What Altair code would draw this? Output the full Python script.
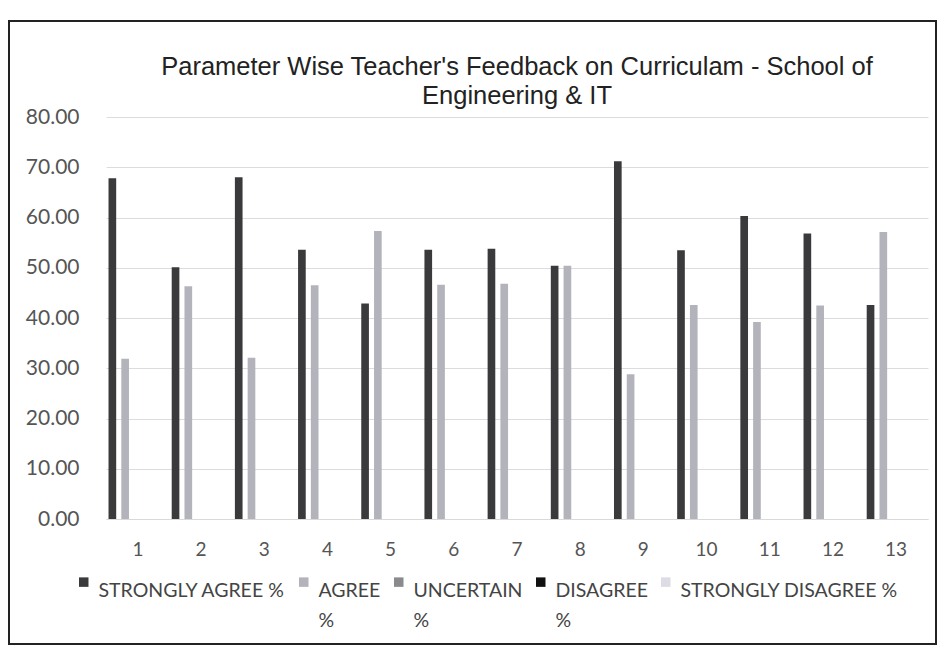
import altair as alt
import pandas as pd

params = [str(i) for i in range(1, 14)]
series = ["STRONGLY AGREE %", "AGREE %", "UNCERTAIN %", "DISAGREE %", "STRONGLY DISAGREE %"]
strongly_agree = [67.8, 50.1, 68.0, 53.6, 42.9, 53.6, 53.8, 50.4, 71.2, 53.5, 60.3, 56.8, 42.6]
agree = [31.9, 46.3, 32.1, 46.5, 57.3, 46.6, 46.8, 50.4, 28.8, 42.6, 39.2, 42.5, 57.1]
uncertain = [0.0] * 13
disagree = [0.0] * 13
strongly_disagree = [0.0] * 13
colors = ["#3a3a3c", "#b3b3bb", "#8a8a8e", "#111111", "#dcdce4"]

rows = []
for name, vals in zip(series, [strongly_agree, agree, uncertain, disagree, strongly_disagree]):
    for p, v in zip(params, vals):
        rows.append({"param": p, "series": name, "value": v})
df = pd.DataFrame(rows)

W, H = 822, 402

label_expr = ("datum.label == 'AGREE %' ? ['AGREE', '%'] : "
              "datum.label == 'UNCERTAIN %' ? ['UNCERTAIN', '%'] : "
              "datum.label == 'DISAGREE %' ? ['DISAGREE', '%'] : [datum.label, '']")

bars = alt.Chart(df).mark_bar().encode(
    x=alt.X("param:N", sort=params, title=None,
            scale=alt.Scale(paddingInner=0.07, paddingOuter=0.04),
            axis=alt.Axis(labelAngle=0, labelFont="Lato", labelFontSize=19,
                          labelColor="#555555", labelPadding=21, ticks=False,
                          domainColor="#d9d9d9", grid=False)),
    xOffset=alt.XOffset("series:N", sort=series, scale=alt.Scale(paddingInner=0.4)),
    y=alt.Y("value:Q", title=None,
            scale=alt.Scale(domain=[0, 80]),
            axis=alt.Axis(values=[0, 10, 20, 30, 40, 50, 60, 70, 80], format=".2f",
                          labelFont="Lato", labelFontSize=21, labelColor="#555555",
                          labelPadding=27, ticks=False, domain=False,
                          gridColor="#dcdce0", gridWidth=1)),
    color=alt.Color("series:N", sort=series,
                    scale=alt.Scale(domain=series, range=colors),
                    legend=alt.Legend(title=None, orient="none", legendX=-32, legendY=455,
                                      direction="horizontal", columns=5,
                                      symbolType="square", symbolSize=90,
                                      symbolStrokeWidth=0, labelFont="Lato",
                                      labelFontSize=19.5, labelColor="#444444",
                                      labelLimit=400, columnPadding=8,
                                      labelBaseline="top", labelOffset=5,
                                      labelExpr=label_expr)),
)

frame = alt.Chart(pd.DataFrame({"a": [0]})).mark_rect(
    fill=None, stroke="#222222", strokeWidth=2
).encode(x=alt.value(-97), x2=alt.value(830), y=alt.value(-96), y2=alt.value(527))

chart = alt.layer(bars, frame).properties(
    width=W, height=H,
    title=alt.Title(["Parameter Wise Teacher's Feedback on Curriculam - School of",
                     "Engineering & IT"],
                    font="Liberation Sans", fontSize=25.5, fontWeight="normal",
                    color="#222222", anchor="middle", lineHeight=28.5, offset=10,
                    dy=99, frame="group"),
    autosize=alt.AutoSizeParams(type="none"),
    padding={"left": 98, "top": 109, "right": 10, "bottom": 127},
).configure(
    background="white", style={"guide-label": {"lineHeight": 30}}
).configure_view(stroke=None)

chart.save("out.html", embed_options={"renderer": "svg", "actions": False})
